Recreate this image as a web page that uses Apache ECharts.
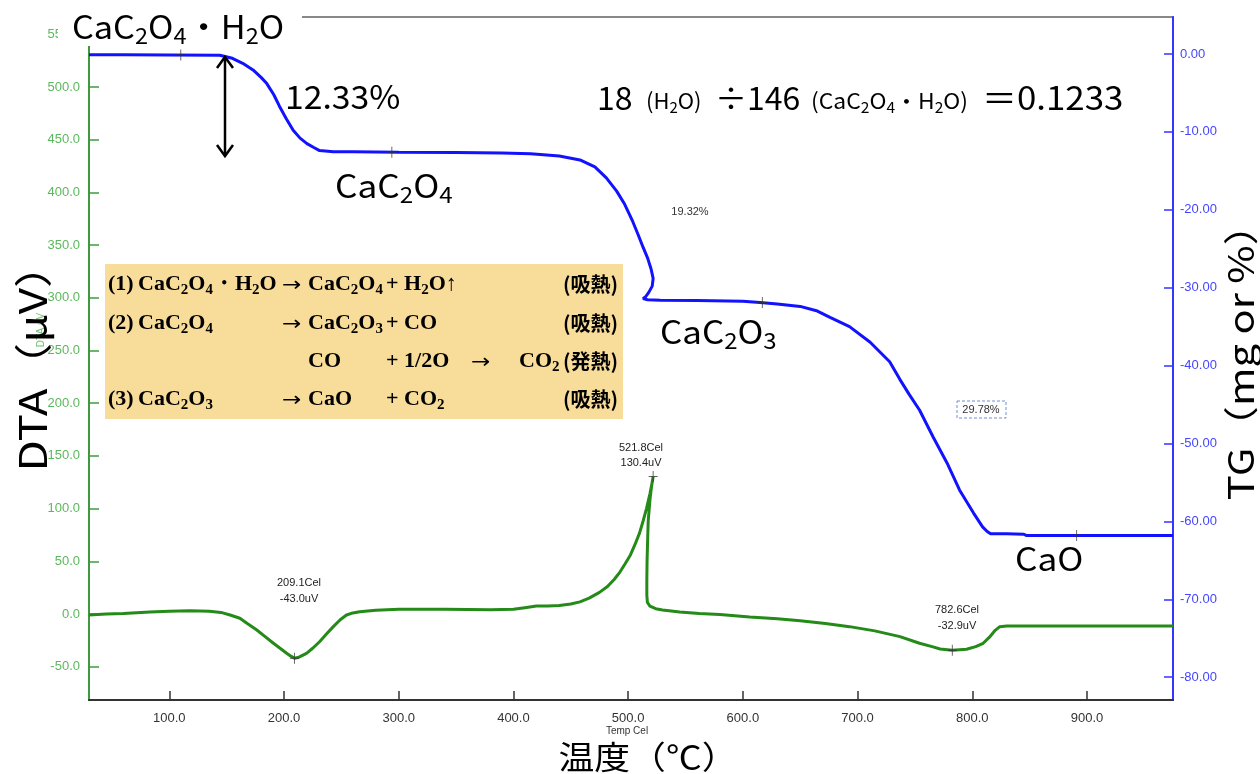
<!DOCTYPE html>
<html><head><meta charset="utf-8">
<script src="https://cdn.jsdelivr.net/npm/echarts@6/dist/echarts.min.js"></script>
<style>html,body{margin:0;padding:0;background:#fff}#c{width:1260px;height:774px}</style>
</head><body><div id="c"></div>
<script>
// ---- data ----
const xTicks = [100, 200, 300, 400, 500, 600, 700, 800, 900];
const dtaTicks = [-50, 0, 50, 100, 150, 200, 250, 300, 350, 400, 450, 500, 550];
const tgTicks = [0, -10, -20, -30, -40, -50, -60, -70, -80];

// TG curve: [temperature (Cel), TG (mg or %)]
const tgData = [
  [30,-0.1],[60,-0.1],[100,-0.12],[144,-0.15],[155,-0.55],[164,-1.2],[173,-2.05],[180,-3.0],
  [185,-3.8],[191,-5.2],[196,-6.7],[202,-8.3],[208,-9.8],[214,-10.8],[220,-11.5],[226,-12.0],
  [231,-12.4],[243,-12.55],[260,-12.55],[300,-12.6],[350,-12.65],[390,-12.7],[415,-12.8],
  [440,-13.1],[458,-13.6],[471,-14.5],[481,-15.9],[490,-17.6],[497,-19.3],[504,-21.5],
  [509,-23.3],[513,-24.8],[517,-26.2],[520,-27.6],[521.8,-28.8],[521,-29.8],[518,-30.6],
  [515,-31.2],[513,-31.4],[517,-31.55],[528,-31.6],[560,-31.65],[600,-31.75],[615,-31.9],
  [630,-32.1],[650,-32.4],[665,-33.0],[676,-33.8],[693,-35.0],[711,-37.0],[728,-39.5],
  [737,-41.8],[745,-43.7],[754,-45.7],[766,-49.2],[778,-52.5],[789,-56.0],[801,-58.9],
  [809,-60.7],[813,-61.3],[816,-61.6],[830,-61.6],[845,-61.65],[847,-61.8],[900,-61.8],[975,-61.8]
];
// DTA curve: [temperature (Cel), DTA (uV)]
const dtaData = [
  [30,-1],[45,0],[60,0.5],[83,2],[100,2.5],[118,3],[135,2.5],[145,1.5],[153,-1],[161.5,-4],
  [168,-9],[176,-15],[183,-21],[190.5,-27.5],[196,-32],[202,-37],[206,-40],[209.1,-42],
  [213,-41],[219.6,-37.3],[225,-32.5],[231,-26.3],[237,-19],[243,-12],[249,-5.5],[254.5,-1],
  [260,1],[266,2.2],[280,3.5],[300,4.5],[340,4.5],[380,4],[400,4.5],[410,6],[420,7.5],
  [430,7.5],[440,8],[450,9.5],[458,11.5],[466,15],[475,20.5],[482,26],[488,33],[493,40],
  [497,47],[502,56],[506,66],[510,77],[513,88],[516,100],[519,114],[521,125],[521.8,130.4],
  [520.5,122],[519,108],[517.5,88],[517,70],[516.5,50],[516.3,32],[516.3,18],[516.8,11],
  [519,7.5],[524,5],[530,3.8],[545,2],[562,0.5],[580,-0.5],[606,-2.8],[630,-4.5],[650,-6.5],
  [672,-9],[693,-12],[715,-16],[737,-21.5],[754,-27.8],[765,-31],[772,-33.2],[782.6,-34.5],
  [795,-33.5],[803,-31],[809.5,-27.8],[815,-22],[820,-15.5],[824,-12],[830,-11.4],[975,-11.4]
];
const tgMarks = [[110,-0.12],[294,-12.6],[617,-31.9],[891,-61.8]];
const dtaMarks = [[209.1,-42],[521.8,130.4],[782.6,-34.5]];

// ---- helpers ----
const JP = '"Noto Sans CJK JP", "Noto Sans", sans-serif';
const SERIF = '"Liberation Serif", "DejaVu Serif", serif';
const SANS = '"Liberation Sans", Arial, sans-serif';
function chem(s){ return s.replace(/_(\d)/g, '{s|$1}'); }
function bigText(x, y, s, size, sub, opts){
  opts = opts || {};
  const lh = Math.round(size*1.25);
  const fam = opts.family || JP;
  return {
    type:'text', x:x, y:y, z:200, rotation: opts.rotation || 0,
    scaleX: opts.scale || 1, scaleY: 1,
    style:{
      text: chem(s), fontSize:size, fontFamily: fam, fontWeight: opts.weight || 'normal',
      fill: opts.color || '#000', lineHeight: lh,
      align: opts.align || 'left', textAlign: opts.align || 'left',
      verticalAlign:'middle', textVerticalAlign:'middle',
      rich:{ s:{ fontSize:sub, fontFamily: fam, fontWeight: opts.weight || 'normal',
                 fill: opts.color || '#000', lineHeight: Math.round(sub*0.9), verticalAlign:'bottom' } }
    }
  };
}
function smallText(x, y, s, size, color, align){
  return { type:'text', x:x, y:y, z:200, style:{ text:s, fontSize:size, fontFamily:SANS,
    fill: color || '#222', align: align || 'center', textAlign: align || 'center',
    verticalAlign:'middle', textVerticalAlign:'middle', lineHeight: size+4 } };
}

const graphics = [];
// white label box top-left
graphics.push({type:'rect', z:150, shape:{x:58,y:0,width:244,height:46}, style:{fill:'#fff'}});
graphics.push(bigText(72, 27, 'CaC_2O_4・H_2O', 32, 22, {scale:1.07}));
// double arrow
graphics.push({type:'line', z:200, shape:{x1:225,y1:57,x2:225,y2:156}, style:{stroke:'#000', lineWidth:2.5}});
graphics.push({type:'polyline', z:200, shape:{points:[[217,68],[225,57],[233,68]]}, style:{stroke:'#000', lineWidth:2.5, fill:null}});
graphics.push({type:'polyline', z:200, shape:{points:[[217,145],[225,156],[233,145]]}, style:{stroke:'#000', lineWidth:2.5, fill:null}});
graphics.push(bigText(285, 97, '12.33%', 32, 22, {scale:1.055}));
// formula
graphics.push(bigText(597, 98, '18', 32, 22));
graphics.push(bigText(646, 101, '(H_2O)', 22, 15));
graphics.push(bigText(715, 98, '÷146', 32, 22));
graphics.push(bigText(811, 101, '(CaC_2O_4・H_2O)', 22, 15, {scale:1.04}));
graphics.push(bigText(982, 98, '＝0.1233', 32, 22, {scale:1.09}));
// species labels
graphics.push(bigText(335, 186, 'CaC_2O_4', 32, 22, {scale:1.1}));
graphics.push(bigText(660, 332, 'CaC_2O_3', 32, 22, {scale:1.09}));
graphics.push(bigText(1015, 559, 'CaO', 32, 22, {scale:1.1}));
// percent labels
graphics.push(smallText(690, 212, '19.32%', 11, '#333'));
graphics.push({type:'rect', z:190, shape:{x:957,y:401,width:49,height:17}, style:{fill:'#fff', stroke:'#6f8fd8', lineWidth:1, lineDash:[3,2]}});
graphics.push(smallText(981, 409.5, '29.78%', 11, '#333'));
// peak labels
graphics.push(smallText(299, 583, '209.1Cel', 11));
graphics.push(smallText(299, 599, '-43.0uV', 11));
graphics.push(smallText(641, 448, '521.8Cel', 11));
graphics.push(smallText(641, 463, '130.4uV', 11));
graphics.push(smallText(957, 610, '782.6Cel', 11));
graphics.push(smallText(957, 626, '-32.9uV', 11));
// reaction box
graphics.push({type:'rect', z:150, shape:{x:105,y:264,width:518,height:155}, style:{fill:'#f8dc9a'}});
const rows = [
  [284, [[108,'(1)'],[138,'CaC_2O_4・H_2O'],[282,'→'],[308,'CaC_2O_4'],[386,'+ H_2O↑'],[563,'(吸熱)']]],
  [323, [[108,'(2)'],[138,'CaC_2O_4'],[282,'→'],[308,'CaC_2O_3'],[386,'+ CO'],[563,'(吸熱)']]],
  [361, [[308,'CO'],[386,'+ 1/2O'],[471,'→'],[519,'CO_2'],[563,'(発熱)']]],
  [399, [[108,'(3)'],[138,'CaC_2O_3'],[282,'→'],[308,'CaO'],[386,'+ CO_2'],[563,'(吸熱)']]]
];
rows.forEach(r => r[1].forEach(p => {
  const isJ = /[吸発熱]/.test(p[1]);
  if (p[1] === '→') {
    graphics.push(bigText(p[0], r[0] + 2, '→', 20, 14, {family:'"DejaVu Sans", sans-serif', weight:'normal', scale:1.15}));
  } else {
    graphics.push(bigText(p[0], r[0], p[1], isJ ? 20 : 22, 15, {family: isJ ? JP : SERIF, weight:'bold'}));
  }
}));
// axis titles
graphics.push(bigText(33, 357, 'DTA（μV）', 38, 25, {rotation:Math.PI/2, align:'center', scale:1.2}));
graphics.push(bigText(1241, 352, 'TG（mg or %）', 35, 24, {rotation:Math.PI/2, align:'center', scale:1.19}));
graphics.push(bigText(648, 757, '温度（℃）', 32, 22, {align:'center', scale:1.12}));
graphics.push(smallText(627, 731, 'Temp Cel', 10, '#333'));
graphics.push({type:'text', x:41, y:330, z:120, rotation:Math.PI/2, style:{text:'DTA uV', fontSize:10,
  fontFamily:SANS, fill:'#6cc06c', align:'center', textAlign:'center',
  verticalAlign:'middle', textVerticalAlign:'middle'}});

const chart = echarts.init(document.getElementById('c'));
chart.setOption({
  animation:false,
  backgroundColor:'#fff',
  grid:{left:89, right:87, top:17, bottom:74, show:true, borderColor:'#888', borderWidth:2, backgroundColor:'#fff'},
  xAxis:{
    type:'value', min:30, max:975,
    axisLine:{onZero:false, lineStyle:{color:'#333', width:2}},
    axisTick:{inside:true, length:9, customValues:xTicks, lineStyle:{color:'#333', width:1.5}},
    axisLabel:{customValues:xTicks, formatter:v=>v.toFixed(1), color:'#333', fontSize:13,
               fontFamily:SANS, margin:12},
    splitLine:{show:false}
  },
  yAxis:[
    { type:'value', position:'left', min:-81.6, max:566.4,
      axisLine:{show:true, onZero:false, lineStyle:{color:'#3f9a3f', width:2}},
      axisTick:{show:true, inside:true, length:10, customValues:dtaTicks, lineStyle:{color:'#3f9a3f', width:1.5}},
      axisLabel:{customValues:dtaTicks, formatter:v=>v.toFixed(1), color:'#5cb85c', fontSize:13,
                 fontFamily:SANS, margin:9},
      splitLine:{show:false} },
    { type:'value', position:'right', min:-82.93, max:4.75,
      axisLine:{show:true, onZero:false, lineStyle:{color:'#3535ff', width:2}},
      axisTick:{show:true, inside:true, length:9, customValues:tgTicks, lineStyle:{color:'#3535ff', width:1.5}},
      axisLabel:{customValues:tgTicks, formatter:v=>v.toFixed(2), color:'#4545ff', fontSize:13,
                 fontFamily:SANS, margin:7},
      splitLine:{show:false} }
  ],
  series:[
    { type:'line', name:'DTA', yAxisIndex:0, data:dtaData, showSymbol:false, smooth:false,
      lineStyle:{color:'#248a18', width:3}, itemStyle:{color:'#248a18'} },
    { type:'line', name:'TG', yAxisIndex:1, data:tgData, showSymbol:false, smooth:false,
      lineStyle:{color:'#1212ff', width:3}, itemStyle:{color:'#1212ff'} },
    { type:'scatter', yAxisIndex:1, data:tgMarks, symbol:'path://M5,0L5,10M0,5L10,5', symbolSize:[9,11],
      itemStyle:{color:'rgba(0,0,0,0)', borderColor:'#333', borderWidth:1}, z:5 },
    { type:'scatter', yAxisIndex:0, data:dtaMarks, symbol:'path://M5,0L5,10M0,5L10,5', symbolSize:[9,11],
      itemStyle:{color:'rgba(0,0,0,0)', borderColor:'#333', borderWidth:1}, z:5 }
  ],
  graphic:{elements:graphics}
});
</script></body></html>
